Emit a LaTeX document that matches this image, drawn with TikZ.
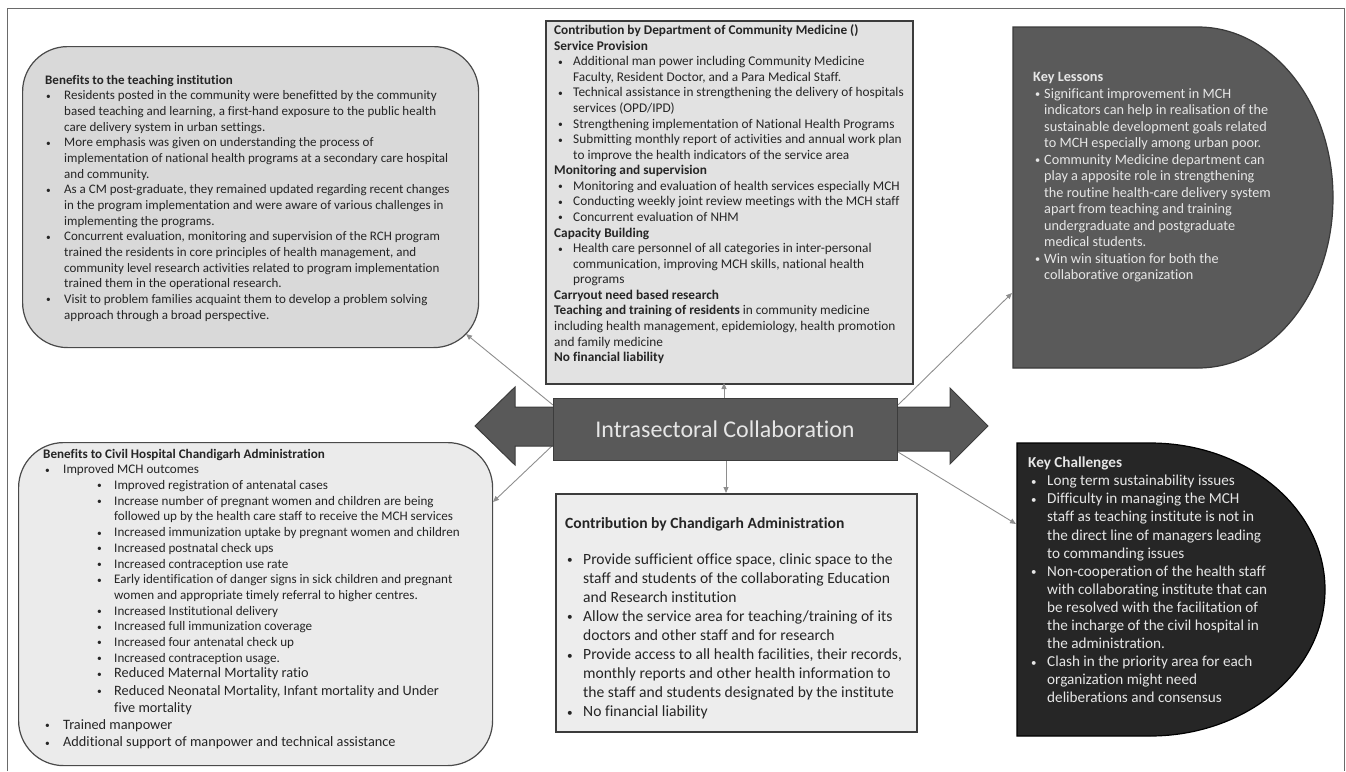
\documentclass[tikz,border=0pt]{standalone}
\usepackage{fontspec}
\setmainfont{Carlito}[Ligatures=NoCommon]
\usetikzlibrary{arrows.meta}
\definecolor{tlfill}{HTML}{D9D9D9}
\definecolor{blfill}{HTML}{EBEBEB}
\definecolor{tcfill}{HTML}{E2E2E2}
\definecolor{bcfill}{HTML}{EDEDED}
\definecolor{edgec}{HTML}{4A4A4A}
\definecolor{trfill}{HTML}{5A5A5A}
\definecolor{trdraw}{HTML}{3A3A3A}
\definecolor{brfill}{HTML}{262626}
\definecolor{arrfill}{HTML}{595959}
\definecolor{arrdraw}{HTML}{3C3C3C}
\definecolor{connc}{HTML}{8E8E8E}
\definecolor{ink}{HTML}{252525}
\definecolor{lightink}{HTML}{E6E6E6}
\definecolor{framec}{HTML}{6A6A6A}
\newcommand\dotb{\raisebox{0.6pt}{\scalebox{0.72}{\textbullet}}}
\newcommand\bl[2]{\hspace*{#1}\makebox[#2][l]{\dotb}}
\newcommand\ind[1]{\hspace*{#1}}
\newcommand\lgsz{\fontsize{14.3}{15.7}\selectfont}
\begin{document}
\begin{tikzpicture}[x=1pt,y=-1pt,
  boxr/.style={draw=edgec, line width=1.2pt, inner sep=0pt, anchor=north west},
  txt/.style={inner sep=0pt, anchor=north west, text=ink},
  conn/.style={draw=connc, line width=0.9pt, -{Triangle[length=6pt,width=5pt]}}]
\useasboundingbox (0,0) rectangle (1346,771);
% outer frame
\draw[framec, line width=0.8pt] (7,771) -- (7,8) -- (1344,8) -- (1344,771);

% boxes
\node[boxr, fill=tlfill, rounded corners=45pt, minimum width=456pt, minimum height=301pt] (tl) at (22,46) {};
\node[boxr, fill=blfill, rounded corners=45pt, minimum width=474pt, minimum height=323pt] (bl) at (18,442) {};
\node[boxr, fill=tcfill, rounded corners=0pt, minimum width=367pt, minimum height=363pt, draw=arrdraw, line width=1.5pt] (tc) at (545,20) {};
\node[boxr, fill=bcfill, rounded corners=0pt, minimum width=361pt, minimum height=238pt, draw=arrdraw, line width=1.5pt] (bc) at (555,493) {};
\draw[draw=trdraw, fill=trfill, line width=1.2pt] (1013,27) -- (1198,27) .. controls (1272.6,27) and (1333,103.3) .. (1333,197.5) .. controls (1333,291.7) and (1272.6,368) .. (1198,368) -- (1013,368) -- cycle;
\draw[draw=black, fill=brfill, line width=1.2pt] (1017,443) -- (1150,443) .. controls (1246.7,443) and (1325,508.6) .. (1325,589.5) .. controls (1325,670.4) and (1246.7,736) .. (1150,736) -- (1017,736) -- cycle;

% connector end points
\coordinate (cTLs) at (553,405);
\coordinate (cTLe) at (466,334);
\coordinate (cBLs) at (553,445);
\coordinate (cBLe) at (493,502);
\coordinate (cTRs) at (898,405);
\coordinate (cTRe) at (1012,293);
\coordinate (cBRs) at (898,452);
\coordinate (cBRe) at (1016,524);
\coordinate (cTCs) at (724,398);
\coordinate (cTCe) at (724,383);
\coordinate (cBCs) at (726,460);
\coordinate (cBCe) at (726,493);
\draw[conn] (cTLs) -- (cTLe);
\draw[conn] (cBLs) -- (cBLe);
\draw[conn] (cTRs) -- (cTRe);
\draw[conn] (cBRs) -- (cBRe);
\draw[conn] (cTCs) -- (cTCe);
\draw[conn] (cBCs) -- (cBCe);

% central double arrow
\draw[fill=arrfill, draw=arrdraw, line width=1pt] (556,407) -- (515,407) -- (515,387) -- (475,426) -- (515,465) -- (515,446) -- (556,446) -- cycle;
\draw[fill=arrfill, draw=arrdraw, line width=1pt] (894,407) -- (950,407) -- (950,388) -- (988,426) -- (950,464) -- (950,451) -- (894,451) -- cycle;
\node[fill=arrfill, draw=arrdraw, line width=1pt, minimum width=344pt, minimum height=62pt, inner sep=0pt, text=lightink, font=\fontsize{24}{28}\selectfont] (collab) at (725,429) {Intrasectoral Collaboration};

% texts
\node[txt] (tlt) at (45,73) {\fontsize{13}{15.67}\selectfont
\begin{tabular}[t]{@{}l@{}}
\textbf{Benefits to the teaching institution}\\
\bl{1pt}{18pt}Residents posted in the community were benefitted by the community\\
\ind{19pt}based teaching and learning, a first-hand exposure to the public health\\
\ind{19pt}care delivery system in urban settings.\\
\bl{1pt}{18pt}More emphasis was given on understanding the process of\\
\ind{19pt}implementation of national health programs at a secondary care hospital\\
\ind{19pt}and community.\\
\bl{1pt}{18pt}As a CM post-graduate, they remained updated regarding recent changes\\
\ind{19pt}in the program implementation and were aware of various challenges in\\
\ind{19pt}implementing the programs.\\
\bl{1pt}{18pt}Concurrent evaluation, monitoring and supervision of the RCH program\\
\ind{19pt}trained the residents in core principles of health management, and\\
\ind{19pt}community level research activities related to program implementation\\
\ind{19pt}trained them in the operational research.\\
\bl{1pt}{18pt}Visit to problem families acquaint them to develop a problem solving\\
\ind{19pt}approach through a broad perspective.
\end{tabular}};

\node[txt] (tct) at (554,23.6) {\fontsize{13.3}{15.57}\selectfont
\begin{tabular}[t]{@{}l@{}}
\textbf{Contribution by Department of Community Medicine ()}\\
\textbf{Service Provision}\\
\bl{4pt}{15pt}Additional man power including Community Medicine\\
\ind{19pt}Faculty, Resident Doctor, and a Para Medical Staff.\\
\bl{4pt}{15pt}Technical assistance in strengthening the delivery of hospitals\\
\ind{19pt}services (OPD/IPD)\\
\bl{4pt}{15pt}Strengthening implementation of National Health Programs\\
\bl{4pt}{15pt}Submitting monthly report of activities and annual work plan\\
\ind{19pt}to improve the health indicators of the service area\\
\textbf{Monitoring and supervision}\\
\bl{4pt}{15pt}Monitoring and evaluation of health services especially MCH\\
\bl{4pt}{15pt}Conducting weekly joint review meetings with the MCH staff\\
\bl{4pt}{15pt}Concurrent evaluation of NHM\\
\textbf{Capacity Building}\\
\bl{4pt}{15pt}Health care personnel of all categories in inter-personal\\
\ind{19pt}communication, improving MCH skills, national health\\
\ind{19pt}programs\\
\textbf{Carryout need based research}\\
\textbf{Teaching and training of residents} in community medicine\\
including health management, epidemiology, health promotion\\
and family medicine\\
\textbf{No financial liability}
\end{tabular}};

\node[txt, text=lightink] (trt) at (1033,70) {\fontsize{14.25}{16.5}\selectfont
\begin{tabular}[t]{@{}l@{}}
\textbf{Key Lessons}\\
\bl{2pt}{9pt}Significant improvement in MCH\\
\ind{11pt}indicators can help in realisation of the\\
\ind{11pt}sustainable development goals related\\
\ind{11pt}to MCH especially among urban poor.\\
\bl{2pt}{9pt}Community Medicine department can\\
\ind{11pt}play a apposite role in strengthening\\
\ind{11pt}the routine health-care delivery system\\
\ind{11pt}apart from teaching and training\\
\ind{11pt}undergraduate and postgraduate\\
\ind{11pt}medical students.\\
\bl{2pt}{9pt}Win win situation for both the\\
\ind{11pt}collaborative organization
\end{tabular}};

\node[txt, text=lightink] (brt) at (1028,454.8) {\fontsize{15.2}{18.1}\selectfont
\begin{tabular}[t]{@{}l@{}}
\textbf{Key Challenges}\\
\bl{3pt}{16pt}Long term sustainability issues\\
\bl{3pt}{16pt}Difficulty in managing the MCH\\
\ind{19pt}staff as teaching institute is not in\\
\ind{19pt}the direct line of managers leading\\
\ind{19pt}to commanding issues\\
\bl{3pt}{16pt}Non-cooperation of the health staff\\
\ind{19pt}with collaborating institute that can\\
\ind{19pt}be resolved with the facilitation of\\
\ind{19pt}the incharge of the civil hospital in\\
\ind{19pt}the administration.\\
\bl{3pt}{16pt}Clash in the priority area for each\\
\ind{19pt}organization might need\\
\ind{19pt}deliberations and consensus
\end{tabular}};

\node[txt] (bct) at (565,514.6) {\fontsize{15.6}{19.1}\selectfont
\begin{tabular}[t]{@{}l@{}}
\textbf{Contribution by Chandigarh Administration}\\[16.9pt]
\bl{2pt}{16pt}Provide sufficient office space, clinic space to the\\
\ind{18pt}staff and students of the collaborating Education\\
\ind{18pt}and Research institution\\
\bl{2pt}{16pt}Allow the service area for teaching/training of its\\
\ind{18pt}doctors and other staff and for research\\
\bl{2pt}{16pt}Provide access to all health facilities, their records,\\
\ind{18pt}monthly reports and other health information to\\
\ind{18pt}the staff and students designated by the institute\\
\bl{2pt}{16pt}No financial liability
\end{tabular}};

\node[txt] (blt) at (43,447) {\fontsize{13.1}{15.7}\selectfont
\begin{tabular}[t]{@{}l@{}}
\textbf{Benefits to Civil Hospital Chandigarh Administration}\\
\bl{2pt}{18pt}Improved MCH outcomes\\
\bl{54pt}{17pt}Improved registration of antenatal cases\\
\bl{54pt}{17pt}Increase number of pregnant women and children are being\\
\ind{71pt}followed up by the health care staff to receive the MCH services\\
\bl{54pt}{17pt}Increased immunization uptake by pregnant women and children\\
\bl{54pt}{17pt}Increased postnatal check ups\\
\bl{54pt}{17pt}Increased contraception use rate\\
\bl{54pt}{17pt}Early identification of danger signs in sick children and pregnant\\
\ind{71pt}women and appropriate timely referral to higher centres.\\
\bl{54pt}{17pt}Increased Institutional delivery\\
\bl{54pt}{17pt}Increased full immunization coverage\\
\bl{54pt}{17pt}Increased four antenatal check up\\
\bl{54pt}{17pt}Increased contraception usage.\\
\bl{54pt}{17pt}\lgsz Reduced Maternal Mortality ratio\\[1.5pt]
\bl{54pt}{17pt}\lgsz Reduced Neonatal Mortality, Infant mortality and Under\\[1.5pt]
\ind{71pt}\lgsz five mortality\\[1.5pt]
\bl{2pt}{18pt}\lgsz Trained manpower\\[1.5pt]
\bl{2pt}{18pt}\lgsz Additional support of manpower and technical assistance
\end{tabular}};
\end{tikzpicture}
\end{document}
